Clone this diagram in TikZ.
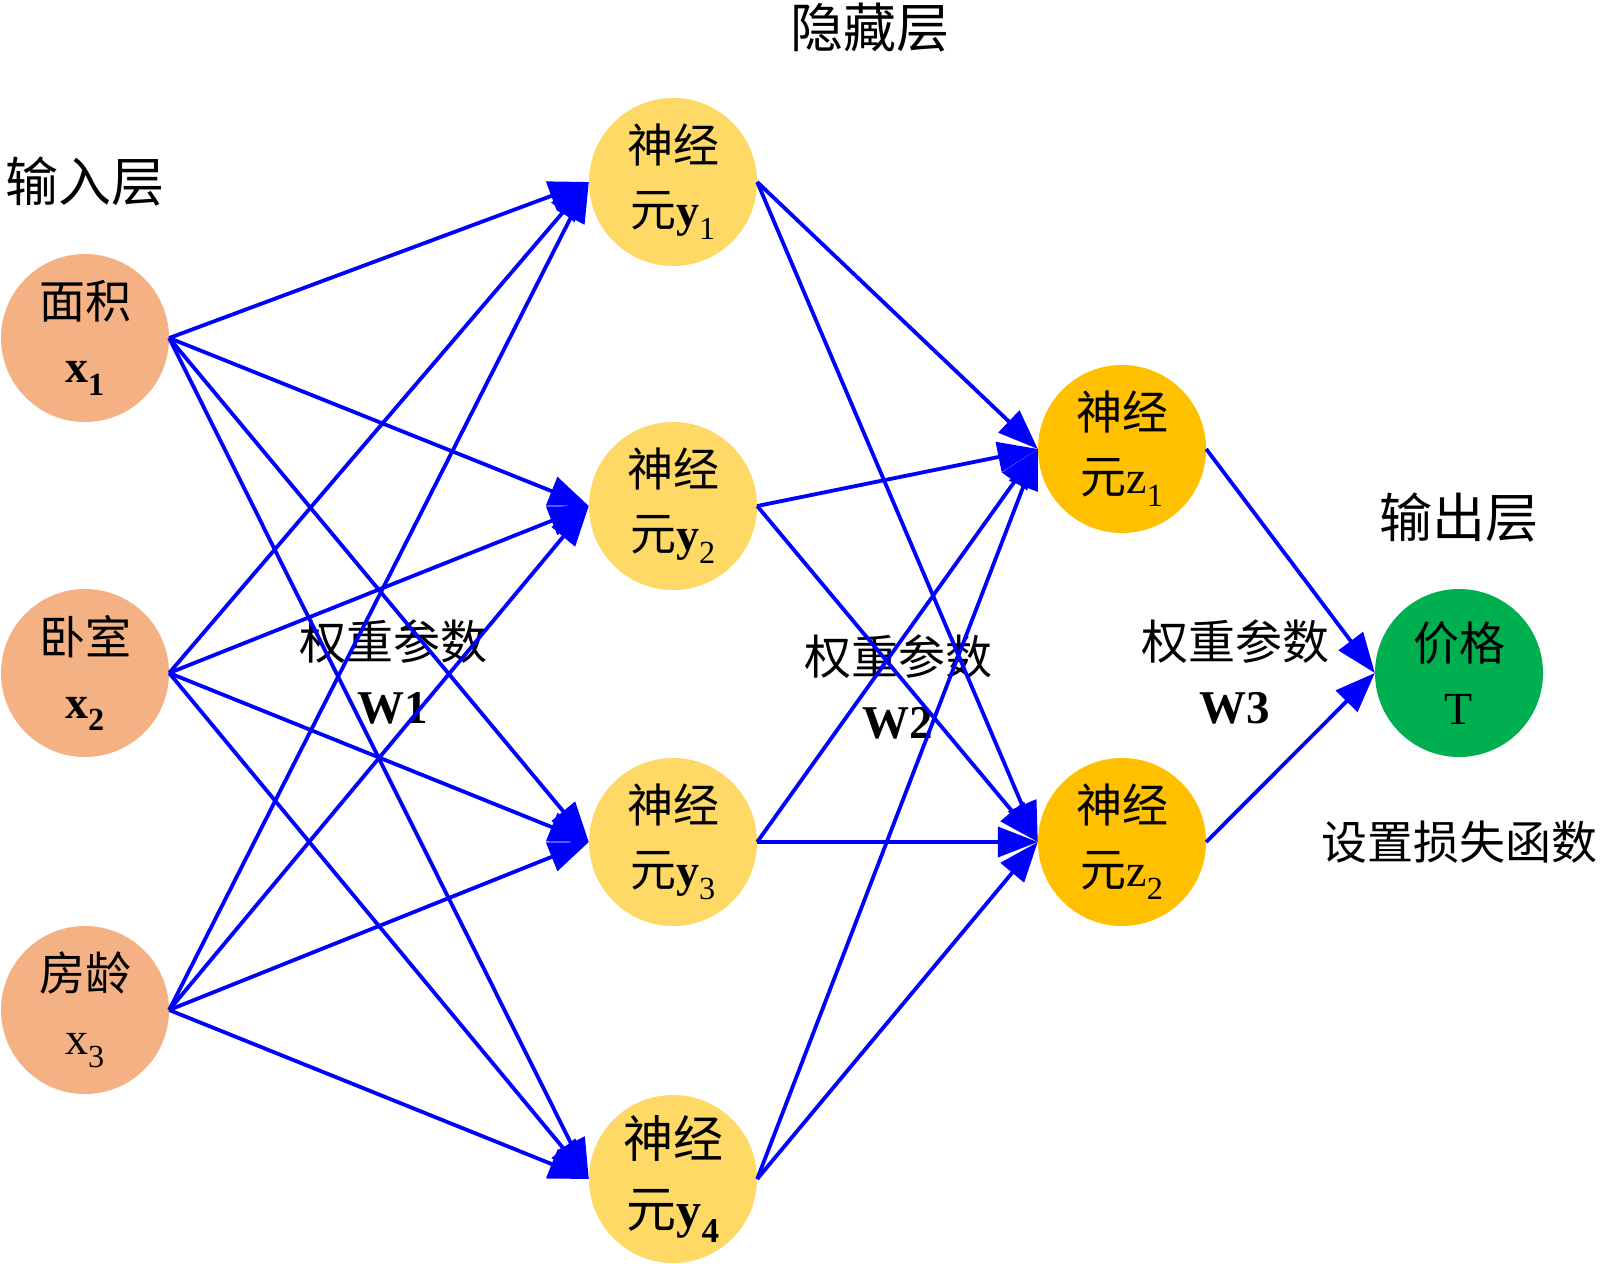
\documentclass[tikz,border=0pt]{standalone}
\usepackage{fontspec}
\setmainfont{Liberation Serif}
\newfontfamily\cjk{Noto Sans CJK SC}
\usetikzlibrary{arrows.meta}
\definecolor{inorange}{HTML}{F4B183}
\definecolor{ygold}{HTML}{FFD966}
\definecolor{zgold}{HTML}{FFC000}
\definecolor{outgreen}{HTML}{00B050}
\definecolor{arrowblue}{HTML}{0000FF}
\begin{document}
\begin{tikzpicture}[x=1pt,y=-1pt,
  neuron/.style={circle,minimum size=168pt,inner sep=0pt,align=center,font=\fontsize{46}{64}\selectfont},
  inp/.style={neuron,fill=inorange},
  hidy/.style={neuron,fill=ygold},
  hidz/.style={neuron,fill=zgold},
  outn/.style={neuron,fill=outgreen},
  heading/.style={font=\fontsize{53}{60}\selectfont\cjk,inner sep=0pt},
  wlabel/.style={align=center,font=\fontsize{47}{64}\selectfont,inner sep=0pt},
  conn/.style={draw=arrowblue,line width=3.8pt,-{Triangle[length=40pt,width=30pt]}}
]
\useasboundingbox (0,0) rectangle (1600,1263);
\fill[white] (0,0) rectangle (1600,1263);

% input layer
\node[inp] (x1) at (85,338) {{\cjk 面积}\\\textbf{x\textsubscript{1}}};
\node[inp] (x2) at (85,673) {{\cjk 卧室}\\\textbf{x\textsubscript{2}}};
\node[inp] (x3) at (85,1010) {{\cjk 房龄}\\x\textsubscript{3}};

% hidden layer 1
\node[hidy] (y1) at (673,182) {{\cjk 神经}\\{\cjk 元}\textbf{y}\textsubscript{1}};
\node[hidy] (y2) at (673,506) {{\cjk 神经}\\{\cjk 元}\textbf{y}\textsubscript{2}};
\node[hidy] (y3) at (673,842) {{\cjk 神经}\\{\cjk 元}\textbf{y}\textsubscript{3}};
\node[hidy,font=\fontsize{50}{70}\selectfont] (y4) at (673,1179) {{\cjk 神经}\\{\cjk 元}\textbf{y\textsubscript{4}}};

% hidden layer 2
\node[hidz] (z1) at (1122,449) {{\cjk 神经}\\{\cjk 元}z\textsubscript{1}};
\node[hidz] (z2) at (1122,842) {{\cjk 神经}\\{\cjk 元}z\textsubscript{2}};

% output
\node[outn] (T) at (1459,673) {{\cjk 价格}\\T};

% headings
\node[heading] (hin) at (85,182) {输入层};
\node[heading] (hhid) at (870,28) {隐藏层};
\node[heading] (hout) at (1459,518) {输出层};
\node[heading,font=\fontsize{46}{54}\selectfont\cjk] (loss) at (1459,842) {设置损失函数};

% weight labels
\node[wlabel] (w1) at (393,672) {{\cjk 权重参数}\\\textbf{W1}};
\node[wlabel] (w2) at (898,687) {{\cjk 权重参数}\\\textbf{W2}};
\node[wlabel] (w3) at (1235,672) {{\cjk 权重参数}\\\textbf{W3}};

% connections
\foreach \s in {x1,x2,x3}{
  \foreach \t in {y1,y2,y3,y4}{
    \draw[conn] (\s.east) -- (\t.west);
  }
}
\foreach \s in {y1,y2,y3,y4}{
  \foreach \t in {z1,z2}{
    \draw[conn] (\s.east) -- (\t.west);
  }
}
\draw[conn] (z1.east) -- (T.west);
\draw[conn] (z2.east) -- (T.west);
\end{tikzpicture}
\end{document}
